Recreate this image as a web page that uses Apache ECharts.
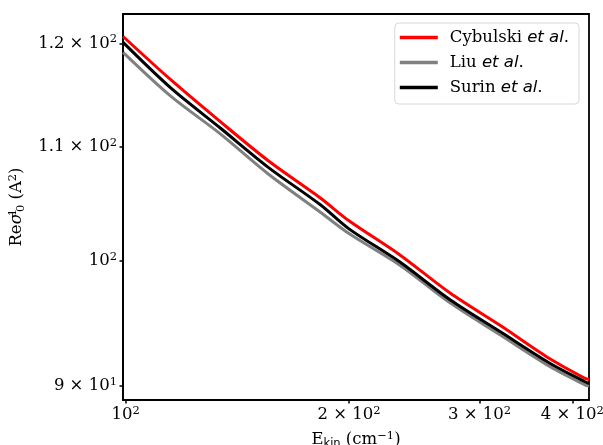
<!DOCTYPE html>
<html>
<head>
<meta charset="utf-8">
<script src="https://cdn.jsdelivr.net/npm/echarts@6/dist/echarts.min.js"></script>
<style>
  html, body { margin: 0; padding: 0; background: #fff; }
  #chart { width: 603px; height: 445px; }
</style>
</head>
<body>
<div id="chart"></div>
<script>
// kinetic energy (cm^-1) and cross sections
const energy = [99.2, 115, 134, 156, 183, 200, 234, 274, 320, 373, 416, 421.3]
const cybulski = [120.7, 116.4, 112.4, 108.7, 105.4, 103.4, 100.5, 97.3, 94.7, 92.1, 90.6, 90.5]
const liu = [119.1, 114.8, 111.25, 107.5, 104.15, 102.3, 99.64, 96.5, 93.95, 91.5, 90.1, 90.0]
const surin = [120.1, 115.6, 111.8, 108.1, 104.8, 102.7, 99.9, 96.75, 94.2, 91.75, 90.33, 90.2]

const seriesNames = ['Cybulski', 'Liu', 'Surin']
const seriesColors = ['#ff0000', '#808080', '#000000']

const xTicks = [100, 200, 300, 400]
const xTickLabels = ['10{s|2}', '2 × 10{s|2}', '3 × 10{s|2}', '4 × 10{s|2}']
const yTicks = [90, 100, 110, 120]
const yTickLabels = ['9 × 10{s|1}', '10{s|2}', '1.1 × 10{s|2}', '1.2 × 10{s|2}']

const serif = 'DejaVu Serif'
const supStyle = { fontFamily: serif, fontSize: 11.5, lineHeight: 10, verticalAlign: 'top', color: '#000' }

function pick (ticks, labels, value) {
  const i = ticks.findIndex(t => Math.abs(t - value) < 0.01)
  return i < 0 ? '' : labels[i]
}

function pairs (ys) {
  return energy.map((x, i) => [x, ys[i]])
}

const chart = echarts.init(document.getElementById('chart'), null, { renderer: 'canvas' })

const option = {
  animation: false,
  backgroundColor: '#fff',
  grid: {
    left: 123,
    right: 14,
    top: 14,
    bottom: 45,
    containLabel: false,
    outerBoundsMode: 'none',
    show: true,
    borderColor: '#000',
    borderWidth: 1.8,
    backgroundColor: 'transparent'
  },
  legend: {
    orient: 'vertical',
    right: 24,
    top: 23,
    data: seriesNames,
    icon: 'rect',
    itemWidth: 38,
    itemHeight: 3.5,
    itemGap: 8,
    padding: [6, 10, 8, 5],
    backgroundColor: '#fff',
    borderColor: '#d8d8d8',
    borderWidth: 1,
    borderRadius: 4,
    formatter: function (name) {
      return '{n|' + name + ' }{i|et al}{n|.}'
    },
    textStyle: {
      rich: {
        n: { fontFamily: serif, fontSize: 16.5, lineHeight: 20, color: '#000' },
        i: { fontFamily: 'DejaVu Sans', fontStyle: 'italic', fontSize: 16.5, lineHeight: 20, color: '#000' }
      },
      padding: [0, 0, 0, 7]
    }
  },
  xAxis: {
    type: 'log',
    logBase: 10,
    min: 99.17,
    max: 421.3,
    name: '{e|E}{k|kin}{n| (cm}{p|−1}{n|)}',
    nameLocation: 'middle',
    nameGap: 30,
    nameTextStyle: {
      rich: {
        e: { fontFamily: serif, fontSize: 16.5, lineHeight: 20, color: '#000' },
        n: { fontFamily: serif, fontSize: 16.5, lineHeight: 20, color: '#000' },
        k: { fontFamily: 'DejaVu Sans', fontSize: 11.5, lineHeight: 11, verticalAlign: 'bottom', color: '#000' },
        p: supStyle
      }
    },
    axisLine: { show: true, lineStyle: { color: '#000', width: 1.8 } },
    axisTick: { show: true, length: 3.5, lineStyle: { color: '#000', width: 1.5 }, customValues: xTicks },
    minorTick: { show: false },
    splitLine: { show: false },
    axisLabel: {
      customValues: xTicks,
      margin: 5,
      fontFamily: serif,
      fontSize: 16.5,
      lineHeight: 20,
      color: '#000',
      formatter: v => pick(xTicks, xTickLabels, v),
      rich: { s: supStyle }
    }
  },
  yAxis: {
    type: 'log',
    logBase: 10,
    min: 88.96,
    max: 123.0,
    name: '{n|Re}{g|σ}{p1|1}{b|0}{n| (A}{p|2}{n|)}',
    nameLocation: 'middle',
    nameGap: 96,
    nameTextStyle: {
      rich: {
        n: { fontFamily: serif, fontSize: 16.5, lineHeight: 20, color: '#000' },
        g: { fontFamily: serif, fontStyle: 'italic', fontSize: 16.5, lineHeight: 20, color: '#000' },
        p1: { fontFamily: serif, fontSize: 11.5, lineHeight: 10, verticalAlign: 'top', width: 1, color: '#000' },
        b: { fontFamily: serif, fontSize: 11.5, lineHeight: 11, verticalAlign: 'bottom', color: '#000' },
        p: supStyle
      }
    },
    axisLine: { show: true, lineStyle: { color: '#000', width: 1.8 } },
    axisTick: { show: true, length: 3.5, lineStyle: { color: '#000', width: 1.5 }, customValues: yTicks },
    minorTick: { show: false },
    splitLine: { show: false },
    axisLabel: {
      customValues: yTicks,
      margin: 6,
      fontFamily: serif,
      fontSize: 16.5,
      lineHeight: 20,
      color: '#000',
      formatter: v => pick(yTicks, yTickLabels, v),
      rich: { s: supStyle }
    }
  },
  series: [
    { name: seriesNames[0], data: pairs(cybulski) },
    { name: seriesNames[1], data: pairs(liu) },
    { name: seriesNames[2], data: pairs(surin) }
  ].map((s, i) => ({
    name: s.name,
    type: 'line',
    data: s.data,
    showSymbol: false,
    symbol: 'none',
    smooth: 0.3,
    clip: true,
    color: seriesColors[i],
    lineStyle: { color: seriesColors[i], width: 3 },
    z: 2 + i
  }))
}

chart.setOption(option)
</script>
</body>
</html>
